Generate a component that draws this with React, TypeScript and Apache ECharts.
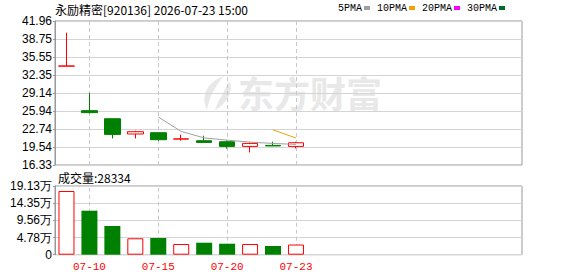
import React, { useEffect, useRef } from 'react';
import * as echarts from 'echarts';

const stockName = '永励精密';
const stockCode = '920136';
const timestamp = '2026-07-23 15:00';
const volumeTitle = '成交量';
const watermarkText = '东方财富';

const dates = ['07-09', '07-10', '07-11', '07-14', '07-15', '07-16', '07-17', '07-20', '07-21', '07-22', '07-23'];
const emptySlots = ['07-24', '07-27', '07-28', '07-29', '07-30', '07-31', '08-03', '08-04', '08-05'];
const labeledDates = ['07-10', '07-15', '07-20', '07-23'];

const openPrices = [33.93, 26.0, 24.57, 21.85, 22.08, 20.94, 20.65, 20.47, 19.64, 19.82, 19.64];
const closePrices = [33.95, 25.65, 21.78, 22.26, 20.83, 20.98, 20.35, 19.64, 20.17, 19.72, 20.29];
const lowPrices = [33.93, 25.5, 21.06, 21.06, 20.65, 20.65, 20.35, 19.23, 18.57, 19.72, 19.28];
const highPrices = [39.88, 29.14, 24.6, 22.43, 22.1, 21.72, 21.54, 20.7, 20.35, 20.47, 20.47];

const ma5 = ['-', '-', '-', '-', 24.87, 22.3, 21.15, 20.75, 20.4, 20.17, 20.0];
const ma10 = ['-', '-', '-', '-', '-', '-', '-', '-', '-', 22.58, 21.13];

const volumes = [177400, 122500, 79900, 45700, 46500, 29800, 33400, 30600, 29800, 24200, 28334];

const priceTickLabels = ['16.33', '19.54', '22.74', '25.94', '29.14', '32.35', '35.55', '38.75', '41.96'];
const volumeTickLabels = ['0', '4.78万', '9.56万', '14.35万', '19.13万'];
const volumeMax = 191300;

const legendNames = ['5PMA', '10PMA', '20PMA', '30PMA'];
const legendColors = ['#a0a0a0', '#eea400', '#ff00ff', '#006a2e'];

const UP = '#ff0000';
const DOWN = '#008000';
const GRID_LINE = '#d4d4d4';
const BORDER = '#999999';

export default function App() {
  const ref = useRef<HTMLDivElement>(null);

  useEffect(() => {
    if (!ref.current) return;
    echarts.graphic.registerShape(
      'emlogo',
      echarts.graphic.extendPath(
        'M26 0 C10 6 2 18 9 34 C11 22 17 10 26 0 Z M32 5 C26 15 20 25 17 34 C29 28 35 16 32 5 Z',
        {}
      )
    );
    const chart = echarts.init(ref.current, undefined, { renderer: 'svg' });
    const allDates = dates.concat(emptySlots);
    const candleData = dates.map((_, i) => [openPrices[i], closePrices[i], lowPrices[i], highPrices[i]]);
    const volumeData = volumes.map((v, i) => {
      const up = closePrices[i] >= openPrices[i];
      return {
        value: v,
        itemStyle: up
          ? { color: '#ffffff', borderColor: UP, borderWidth: 1 }
          : { color: DOWN, borderWidth: 0 },
      };
    });
    const vLines = {
      symbol: 'none',
      silent: true,
      animation: false,
      z: 1,
      label: { show: false },
      lineStyle: { color: '#c8c8c8', type: [4, 3], width: 1 },
      data: labeledDates.map((d) => ({ xAxis: d })),
    };
    const labelFont = { color: '#000', fontSize: 12, fontFamily: 'Liberation Sans, Arial, sans-serif' };

    chart.setOption({
      animation: false,
      backgroundColor: '#ffffff',
      legend: {
        data: legendNames,
        left: 338,
        top: 3,
        align: 'right',
        itemWidth: 6,
        itemHeight: 4,
        itemGap: 7,
        padding: 0,
        selectedMode: false,
        icon: 'rect',
        textStyle: { fontSize: 10, fontFamily: 'Liberation Mono, monospace', color: '#000', padding: [0, -3, 0, 0] },
      },
      grid: [
        { left: 55, width: 467, top: 21, height: 144, show: true, borderColor: BORDER, borderWidth: 1 },
        { left: 55, width: 459, top: 21, height: 144 },
        { left: 55, width: 467, top: 186, height: 68.7, show: true, borderColor: BORDER, borderWidth: 1 },
        { left: 55, width: 459, top: 186, height: 68.7 },
      ],
      xAxis: [
        { gridIndex: 0, type: 'value', show: false, min: 0, max: 1 },
        { gridIndex: 1, type: 'category', data: allDates, boundaryGap: true, show: false },
        { gridIndex: 2, type: 'value', show: false, min: 0, max: 1 },
        {
          gridIndex: 3,
          type: 'category',
          data: allDates,
          boundaryGap: true,
          axisLine: { show: false },
          axisTick: { show: false },
          splitLine: { show: false },
          axisLabel: {
            interval: (_i: number, v: string) => labeledDates.includes(v),
            color: '#ff0000',
            fontSize: 11,
            fontFamily: 'Liberation Mono, monospace',
            margin: 7,
          },
        },
      ],
      yAxis: [
        {
          gridIndex: 0,
          type: 'value',
          min: 0,
          max: priceTickLabels.length - 1,
          interval: 1,
          axisLine: { show: true, lineStyle: { color: BORDER } },
          axisTick: { show: true, length: 2, lineStyle: { color: BORDER } },
          axisLabel: { ...labelFont, margin: 3, formatter: (v: number) => priceTickLabels[Math.round(v)] },
          splitLine: { show: true, lineStyle: { color: GRID_LINE, width: 1 } },
        },
        {
          gridIndex: 1,
          type: 'value',
          min: parseFloat(priceTickLabels[0]),
          max: parseFloat(priceTickLabels[priceTickLabels.length - 1]),
          show: false,
        },
        {
          gridIndex: 2,
          type: 'value',
          min: 0,
          max: volumeTickLabels.length - 1,
          interval: 1,
          axisLine: { show: true, lineStyle: { color: BORDER } },
          axisTick: { show: true, length: 2, lineStyle: { color: BORDER } },
          axisLabel: { ...labelFont, margin: 3, formatter: (v: number) => volumeTickLabels[Math.round(v)] },
          splitLine: { show: true, lineStyle: { color: GRID_LINE, width: 1 } },
        },
        { gridIndex: 3, type: 'value', min: 0, max: volumeMax, show: false },
      ],
      graphic: [
        {
          type: 'text',
          x: 238,
          y: 74,
          z: -5,
          silent: true,
          style: {
            text: watermarkText,
            fontSize: 36,
            fontWeight: 'bold',
            fontFamily: 'Noto Sans CJK SC',
            fill: '#e8e8e8',
            textVerticalAlign: 'top',
          },
        },
        {
          type: 'emlogo',
          x: 198,
          y: 76,
          z: -5,
          silent: true,
          style: { fill: '#e8e8e8' },
        },
        {
          type: 'text',
          x: 55,
          y: 9,
          style: {
            text: `${stockName}[${stockCode}] ${timestamp}`,
            fontSize: 12,
            fontFamily: 'Noto Sans CJK SC',
            fill: '#000',
            textVerticalAlign: 'middle',
          },
        },
        {
          type: 'text',
          x: 58,
          y: 177,
          style: {
            text: `${volumeTitle}:${volumes[volumes.length - 1]}`,
            fontSize: 12,
            fontFamily: 'Noto Sans CJK SC',
            fill: '#000',
            textVerticalAlign: 'middle',
          },
        },
      ],
      series: [
        {
          type: 'candlestick',
          xAxisIndex: 1,
          yAxisIndex: 1,
          data: candleData,
          barWidth: 16,
          itemStyle: {
            color: '#ffffff',
            color0: DOWN,
            borderColor: UP,
            borderColor0: DOWN,
            borderWidth: 1,
          },
          markLine: vLines,
        },
        {
          name: legendNames[0],
          type: 'line',
          xAxisIndex: 1,
          yAxisIndex: 1,
          data: ma5,
          symbol: 'none',
          color: legendColors[0],
          lineStyle: { width: 1, color: legendColors[0] },
        },
        {
          name: legendNames[1],
          type: 'line',
          xAxisIndex: 1,
          yAxisIndex: 1,
          data: ma10,
          symbol: 'none',
          color: legendColors[1],
          lineStyle: { width: 1, color: legendColors[1] },
        },
        {
          name: legendNames[2],
          type: 'line',
          xAxisIndex: 1,
          yAxisIndex: 1,
          data: [],
          symbol: 'none',
          color: legendColors[2],
        },
        {
          name: legendNames[3],
          type: 'line',
          xAxisIndex: 1,
          yAxisIndex: 1,
          data: [],
          symbol: 'none',
          color: legendColors[3],
        },
        {
          type: 'bar',
          xAxisIndex: 3,
          yAxisIndex: 3,
          data: volumeData,
          barWidth: 16,
          markLine: vLines,
        },
      ],
    });
    return () => chart.dispose();
  }, []);

  return <div ref={ref} style={{ width: 578, height: 276, position: 'absolute', left: 0, top: 0 }} />;
}
